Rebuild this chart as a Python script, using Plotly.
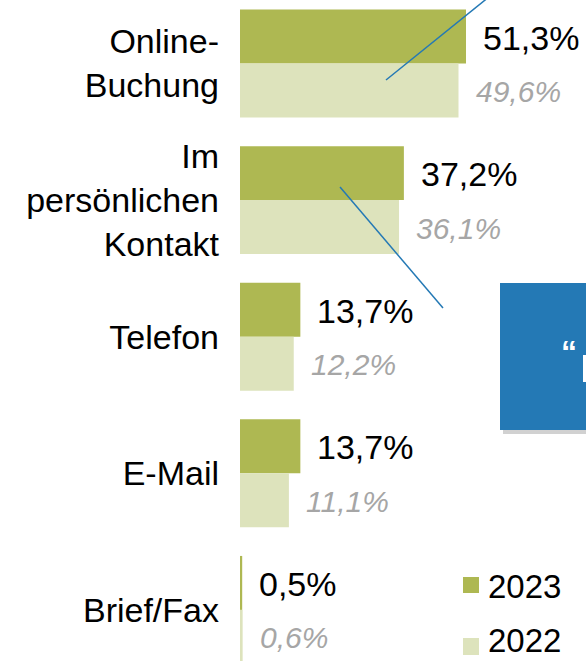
import plotly.graph_objects as go

categories = ["Online-<br>Buchung", "Im<br>persönlichen<br>Kontakt", "Telefon", "E-Mail", "Brief/Fax"]
values_2023 = [51.3, 37.2, 13.7, 13.7, 0.5]
values_2022 = [49.6, 36.1, 12.2, 11.1, 0.6]
series_names = ["2023", "2022"]

FONT = "Liberation Sans, Arial, Helvetica, sans-serif"
C23 = "#AEB852"
C22 = "#DDE3BC"
BLUE = "#2479B5"

W, H = 586, 661
L = 240
PW = W - L

def fmt(v):
    return f"{v:.1f}".replace(".", ",") + "%"

def px_x(p):  # screen pixel -> paper x
    return (p - L) / PW

def px_y(p):  # screen pixel -> paper y
    return 1 - p / H

pos = list(range(len(categories)))

fig = go.Figure()
fig.add_trace(go.Bar(x=values_2023, y=pos, orientation="h", name=series_names[0],
                     marker=dict(color=C23, line=dict(width=0)), showlegend=False))
fig.add_trace(go.Bar(x=values_2022, y=pos, orientation="h", name=series_names[1],
                     marker=dict(color=C22, line=dict(width=0)), showlegend=False))

bargap = 0.21
half = (1 - bargap) / 4.0
annotations = []
for i, v in enumerate(values_2023):
    annotations.append(dict(x=v, y=i - half, xref="x", yref="y", text=fmt(v), showarrow=False,
                            xanchor="left", yanchor="middle", xshift=15, yshift=-1,
                            font=dict(family=FONT, size=34, color="#000000")))
for i, v in enumerate(values_2022):
    annotations.append(dict(x=v, y=i + half, xref="x", yref="y", text="<i>" + fmt(v) + "</i>",
                            showarrow=False, xanchor="left", yanchor="middle", xshift=15, yshift=-1,
                            font=dict(family=FONT, size=30, color="#A6A6A6")))

# quote box text
annotations.append(dict(x=px_x(559), y=px_y(352), xref="paper", yref="paper", text="<b>“</b>",
                        showarrow=False, xanchor="left", yanchor="middle",
                        font=dict(family=FONT, size=32, color="white")))

shapes = [
    dict(type="rect", xref="paper", yref="paper", x0=px_x(503), x1=px_x(640), y0=px_y(287), y1=px_y(434),
         fillcolor="rgba(0,0,0,0.18)", line=dict(width=0), layer="above"),
    dict(type="rect", xref="paper", yref="paper", x0=px_x(500), x1=px_x(640), y0=px_y(283), y1=px_y(430),
         fillcolor=BLUE, line=dict(width=0), layer="above"),
    # edge of the cut-off word in the box
    dict(type="rect", xref="paper", yref="paper", x0=px_x(583), x1=px_x(590), y0=px_y(355), y1=px_y(382),
         fillcolor="white", line=dict(width=0), layer="above"),
    dict(type="line", xref="paper", yref="paper", x0=px_x(386), y0=px_y(80), x1=px_x(500), y1=px_y(-12),
         line=dict(color=BLUE, width=1.5), layer="above"),
    dict(type="line", xref="paper", yref="paper", x0=px_x(340), y0=px_y(187), x1=px_x(443), y1=px_y(308),
         line=dict(color=BLUE, width=1.5), layer="above"),
]

# legend (drawn by hand to match the large swatches)
shapes.append(dict(type="rect", xref="paper", yref="paper", x0=px_x(463), x1=px_x(479),
                   y0=px_y(577), y1=px_y(593), fillcolor=C23, line=dict(width=0), layer="above"))
annotations.append(dict(x=px_x(486), y=px_y(586), xref="paper", yref="paper", text=series_names[0],
                        showarrow=False, xanchor="left", yanchor="middle",
                        font=dict(family=FONT, size=33, color="#000000")))
shapes.append(dict(type="rect", xref="paper", yref="paper", x0=px_x(463), x1=px_x(479),
                   y0=px_y(638), y1=px_y(655), fillcolor=C22, line=dict(width=0), layer="above"))
annotations.append(dict(x=px_x(486), y=0, xref="paper", yref="paper", text=series_names[1],
                        showarrow=False, xanchor="left", yanchor="bottom",
                        font=dict(family=FONT, size=33, color="#000000")))

xmax = PW / (226.0 / 51.3)
fig.update_layout(
    width=W, height=H,
    margin=dict(l=L, r=0, t=0, b=0),
    paper_bgcolor="white", plot_bgcolor="white",
    barmode="group", bargap=bargap, bargroupgap=0,
    showlegend=False,
    xaxis=dict(range=[0, xmax], visible=False, showgrid=False, zeroline=False, fixedrange=True),
    yaxis=dict(range=[(H - 63.5) / 136.6, -63.5 / 136.6], tickvals=pos, ticktext=categories, showgrid=False,
               zeroline=False, showline=False, ticks="", ticklabelstandoff=20,
               tickfont=dict(family=FONT, size=34, color="#000000"), fixedrange=True),
    annotations=annotations,
    shapes=shapes,
    font=dict(family=FONT),
)

fig.write_html("out.html", config={"displayModeBar": False},
               post_script="document.body.style.margin='0';document.body.style.overflow='hidden';")
